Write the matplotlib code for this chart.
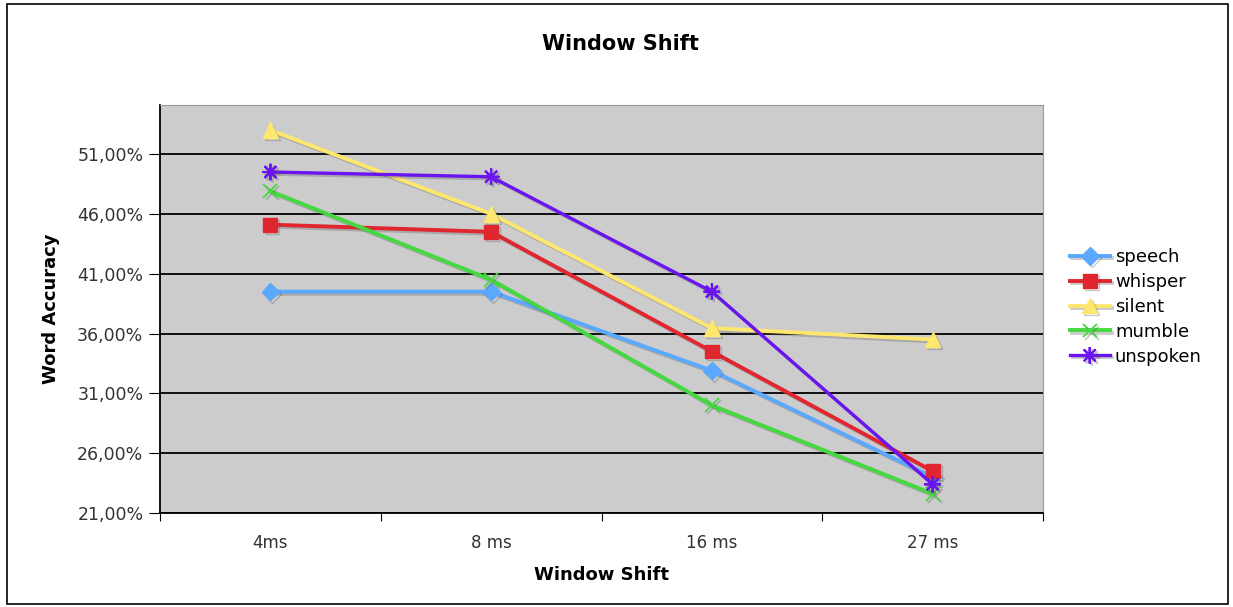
import numpy as np
import matplotlib.pyplot as plt
import matplotlib.patheffects as pe
from matplotlib.ticker import FuncFormatter

shifts = ['4ms', '8 ms', '16 ms', '27 ms']

speech = [39.5, 39.5, 32.9, 24.0]
whisper = [45.1, 44.5, 34.5, 24.5]
silent = [53.0, 46.0, 36.45, 35.5]
mumble = [47.9, 40.5, 30.0, 22.6]
unspoken = [49.5, 49.1, 39.5, 23.4]

##------------------------------------- STYLE -------------------------------------
series = [
    ('speech', speech, '#5aa8ff', 'D', 9),
    ('whisper', whisper, '#e0262e', 's', 10),
    ('silent', silent, '#fde76e', '^', 11),
    ('mumble', mumble, '#46d840', 'x', 10),
    ('unspoken', unspoken, '#6a14f0', '*', 0),
]

fig = plt.figure(figsize=(12.33, 6.07), dpi=100)
ax = fig.add_axes([0.1298, 0.1549, 0.7161, 0.6721])
ax.set_facecolor('#cccccc')

shadow = [pe.SimpleLineShadow(offset=(1.5, -1.5), shadow_color='#555555', alpha=0.3), pe.Normal()]
x = np.arange(len(shifts))
handles = []
for name, vals, col, mk, ms in series:
    if name == 'unspoken':
        # asterisk marker drawn as an 8-spoke star
        h, = ax.plot(x, vals, color=col, lw=2.4, marker=(8, 2, 0), ms=12, mew=1.5,
                     label=name, path_effects=shadow, zorder=3)
    elif mk == 'x':
        h, = ax.plot(x, vals, color=col, lw=2.8, marker=mk, ms=ms, mew=1.3,
                     label=name, path_effects=shadow, zorder=3)
    else:
        h, = ax.plot(x, vals, color=col, lw=2.8, marker=mk, ms=ms, mec=col,
                     label=name, path_effects=shadow, zorder=3)
    handles.append(h)

ax.set_xlim(-0.5, 3.5)
ax.set_ylim(21, 55.1)
yt = np.arange(21, 52, 5)
ax.set_yticks(yt)
ax.yaxis.set_major_formatter(FuncFormatter(lambda v, p: ('%.2f%%' % v).replace('.', ',')))
ax.grid(axis='y', color='black', lw=1.3, zorder=1)
ax.set_axisbelow(True)

# category labels sit between the tick marks
ax.set_xticks(np.arange(-0.5, 4, 1))
ax.set_xticklabels([])
ax.set_xticks(x, minor=True)
ax.set_xticklabels(shifts, minor=True, fontsize=12, color='#333333')
ax.tick_params(axis='x', which='minor', length=0, pad=15)
ax.tick_params(axis='x', which='major', length=6, direction='out', color='black')
ax.tick_params(axis='y', length=8, direction='out', labelsize=12.5, labelcolor='#333333', pad=4)

for s in ['top', 'right']:
    ax.spines[s].set_color('#999999')
for s in ['left', 'bottom']:
    ax.spines[s].set_color('black')
    ax.spines[s].set_linewidth(1.3)

ax.set_xlabel('Window Shift', fontsize=13, fontweight='bold', labelpad=10)
ax.set_ylabel('Word Accuracy', fontsize=13, fontweight='bold', labelpad=12)
fig.text(0.503, 0.928, 'Window Shift', ha='center', va='center', fontsize=15, fontweight='bold')

leg = ax.legend(handles=handles, loc='center left', bbox_to_anchor=(1.012, 0.505),
                frameon=False, fontsize=13, handlelength=2.2, handletextpad=0.3,
                labelspacing=0.38)

# outer chart frame
fig.patches.append(plt.Rectangle((0.006, 0.005), 0.99, 0.988, transform=fig.transFigure,
                                 fill=False, edgecolor='black', lw=1.2))

fig.savefig('out.png', dpi=100)
